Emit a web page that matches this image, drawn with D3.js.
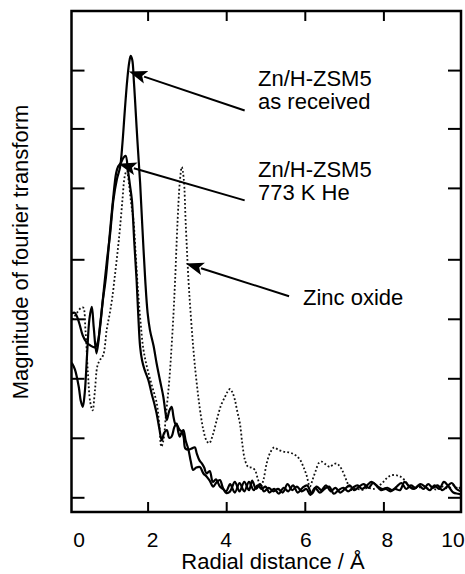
<!DOCTYPE html>
<html>
<head>
<meta charset="utf-8">
<script src="https://cdn.jsdelivr.net/npm/d3@7"></script>
<style>
    body { margin: 0; background: #fff; }
    text { font-family: "Liberation Sans", Arial, Helvetica, sans-serif; fill: #000; }
</style>
</head>
<body>
<div id="chart"></div>
<script>
// radial distance (A) and FT magnitude
const asReceivedR = [0.07, 0.15, 0.25, 0.35, 0.45, 0.55, 0.65, 0.72, 0.80, 0.88, 0.96, 1.05, 1.13, 1.22, 1.30, 1.36, 1.42, 1.48, 1.53, 1.57, 1.61, 1.65, 1.68, 1.74, 1.81, 1.87, 1.94, 2.00, 2.06, 2.15, 2.23, 2.32, 2.40, 2.46, 2.49, 2.55, 2.61, 2.66, 2.70, 2.76, 2.82, 2.88, 2.92, 2.96, 3.04, 3.12, 3.20, 3.25, 3.32, 3.38, 3.44, 3.50, 3.58, 3.66, 3.74, 3.84, 3.92, 4.00,
    4.10, 4.22, 4.34, 4.46, 4.58, 4.70, 4.80, 4.90, 5.00, 5.10, 5.22, 5.34, 5.46, 5.58, 5.70, 5.82, 5.94, 6.06, 6.18, 6.30, 6.42, 6.54, 6.66, 6.78, 6.90, 7.02, 7.14, 7.26, 7.38, 7.50, 7.62, 7.74, 7.86, 7.98, 8.10, 8.22, 8.34, 8.46, 8.58, 8.70, 8.82, 8.94, 9.06, 9.18, 9.30, 9.42, 9.54, 9.66, 9.78, 9.90, 9.97];
const asReceivedMag = [3.09, 3.10, 2.95, 2.72, 2.60, 2.55, 2.52, 2.58, 2.95, 3.45, 3.95, 4.45, 5.00, 5.35, 5.55, 5.95, 6.50, 7.00, 7.30, 7.42, 7.35, 7.00, 6.68, 6.00, 5.28, 4.50, 3.65, 3.10, 2.81, 2.55, 2.25, 1.95, 1.69, 1.40, 1.30, 1.45, 1.52, 1.35, 1.24, 1.20, 1.13, 1.10, 1.00, 0.82, 0.80, 0.82, 0.84, 0.74, 0.62, 0.57, 0.50, 0.40, 0.44, 0.26, 0.30, 0.18, 0.14, 0.10,
    0.22, 0.08, 0.24, 0.10, 0.26, 0.12, 0.20, 0.14, 0.18, 0.08, 0.14, 0.06, 0.16, 0.10, 0.20, 0.08, 0.16, 0.20, 0.06, 0.18, 0.12, 0.20, 0.10, 0.16, 0.08, 0.14, 0.20, 0.12, 0.18, 0.22, 0.16, 0.24, 0.18, 0.14, 0.16, 0.12, 0.18, 0.24, 0.14, 0.20, 0.16, 0.22, 0.18, 0.12, 0.20, 0.14, 0.26, 0.18, 0.08, 0.06, 0.05];

const heatedR = [0.07, 0.15, 0.25, 0.30, 0.35, 0.40, 0.46, 0.52, 0.58, 0.63, 0.70, 0.78, 0.86, 0.94, 1.04, 1.12, 1.20, 1.25, 1.32, 1.38, 1.44, 1.50, 1.55, 1.60, 1.66, 1.72, 1.76, 1.81, 1.86, 1.92, 2.02, 2.10, 2.18, 2.23, 2.30, 2.36, 2.42, 2.49, 2.55, 2.61, 2.68, 2.74, 2.78, 2.82, 2.87, 2.91, 2.97, 3.04, 3.10, 3.16, 3.24, 3.33, 3.42, 3.50, 3.58, 3.67, 3.75, 3.84, 3.92, 4.01,
    4.10, 4.22, 4.34, 4.46, 4.58, 4.66, 4.76, 4.86, 4.96, 5.08, 5.20, 5.32, 5.44, 5.56, 5.68, 5.80, 5.92, 6.04, 6.14, 6.26, 6.38, 6.50, 6.62, 6.74, 6.86, 6.98, 7.10, 7.22, 7.34, 7.46, 7.58, 7.70, 7.82, 7.94, 8.06, 8.18, 8.30, 8.42, 8.54, 8.66, 8.78, 8.90, 9.02, 9.14, 9.26, 9.38, 9.50, 9.62, 9.74, 9.86, 9.97];
const heatedMag = [2.26, 2.15, 1.85, 1.62, 1.52, 1.75, 2.40, 3.00, 3.20, 2.85, 2.42, 2.80, 3.30, 3.70, 4.44, 5.00, 5.45, 5.56, 5.62, 5.70, 5.74, 5.50, 5.25, 5.00, 4.30, 3.65, 3.10, 2.53, 2.30, 2.15, 1.97, 1.75, 1.55, 1.41, 1.15, 0.96, 1.08, 1.13, 1.00, 1.02, 1.18, 1.24, 1.10, 1.02, 1.10, 1.13, 0.95, 0.80, 0.60, 0.46, 0.50, 0.51, 0.40, 0.35, 0.28, 0.18, 0.25, 0.29, 0.15, 0.07,
    0.10, 0.26, 0.10, 0.26, 0.12, 0.28, 0.14, 0.22, 0.10, 0.16, 0.10, 0.14, 0.08, 0.22, 0.12, 0.18, 0.10, 0.14, 0.04, 0.16, 0.08, 0.14, 0.18, 0.06, 0.12, 0.16, 0.10, 0.16, 0.20, 0.14, 0.20, 0.26, 0.20, 0.12, 0.14, 0.10, 0.14, 0.12, 0.26, 0.18, 0.14, 0.20, 0.14, 0.22, 0.16, 0.20, 0.12, 0.18, 0.24, 0.14, 0.10];

const zincOxideR = [0.00, 0.10, 0.20, 0.30, 0.36, 0.42, 0.48, 0.54, 0.60, 0.66, 0.72, 0.78, 0.87, 0.96, 1.04, 1.10, 1.17, 1.24, 1.30, 1.36, 1.42, 1.47, 1.52, 1.58, 1.64, 1.70, 1.76, 1.82, 1.89, 1.98, 2.10, 2.23, 2.30, 2.35, 2.40, 2.47, 2.55, 2.61, 2.66, 2.70, 2.76, 2.82, 2.87, 2.92, 2.97, 3.04, 3.10, 3.16, 3.22, 3.29, 3.36, 3.42, 3.50, 3.57, 3.66, 3.76, 3.87, 3.97, 4.04, 4.10, 4.16, 4.22, 4.28, 4.35, 4.41, 4.48, 4.56, 4.64, 4.73, 4.80, 4.88, 4.95, 5.03, 5.12, 5.22, 5.32, 5.45, 5.56, 5.67, 5.78, 5.88, 5.96, 6.04, 6.13, 6.20, 6.28, 6.36, 6.43, 6.54, 6.64, 6.72, 6.81, 6.88, 6.94, 7.02, 7.10, 7.19, 7.30, 7.45, 7.60, 7.75, 7.90, 8.00, 8.10, 8.20, 8.34, 8.45, 8.55, 8.63, 8.75, 8.90, 9.05, 9.20, 9.35, 9.50, 9.65, 9.80, 9.90, 9.97];
const zincOxideMag = [2.95, 3.00, 3.10, 3.18, 3.19, 2.80, 2.10, 1.60, 1.46, 1.80, 2.20, 2.30, 2.39, 2.82, 3.10, 3.35, 3.74, 4.15, 4.54, 5.00, 5.40, 5.49, 5.30, 4.95, 4.66, 4.05, 3.43, 2.95, 2.50, 2.20, 1.90, 1.59, 1.20, 0.85, 0.95, 1.40, 1.95, 2.53, 3.10, 3.65, 4.60, 5.30, 5.55, 5.35, 4.60, 3.65, 3.05, 2.53, 2.10, 1.69, 1.35, 1.13, 0.95, 0.91, 1.05, 1.30, 1.55, 1.69, 1.78, 1.82, 1.76, 1.64, 1.45, 1.24, 0.90, 0.62, 0.51, 0.50, 0.46, 0.32, 0.18, 0.30, 0.57, 0.75, 0.84, 0.80, 0.77, 0.76, 0.74, 0.70, 0.63, 0.52, 0.38, 0.18, 0.30, 0.45, 0.58, 0.60, 0.55, 0.51, 0.55, 0.57, 0.53, 0.47, 0.35, 0.22, 0.12, 0.15, 0.12, 0.16, 0.14, 0.20, 0.26, 0.33, 0.37, 0.37, 0.34, 0.28, 0.21, 0.15, 0.17, 0.14, 0.16, 0.13, 0.18, 0.15, 0.20, 0.14, 0.18];

const xTicks = [0, 2, 4, 6, 8, 10];
const yTicks = [0, 1, 2, 3, 4, 5.2, 6.2, 7.18];

const annotations = [
    { lines: ["Zn/H-ZSM5", "as received"], x: 258, y: 86, tip: [1.91, 7.07], tail: [4.47, 6.5] },
    { lines: ["Zn/H-ZSM5", "773 K He"], x: 258, y: 177, tip: [1.65, 5.53], tail: [4.47, 4.99] },
    { lines: ["Zinc oxide"], x: 303, y: 305, tip: [3.36, 3.85], tail: [5.60, 3.38] }
];

const width = 465, height = 574;
const frame = { left: 71.5, right: 461, top: 11, bottom: 512 };

const svg = d3.select("#chart")
    .append("svg")
    .attr("width", width)
    .attr("height", height);

const xScale = d3.scaleLinear().domain([0, 10]).range([69, 462]);
const yScale = d3.scaleLinear().domain([0, 8]).range([497.3, 21.3]);

svg.append("clipPath")
    .attr("id", "plot-clip")
    .append("rect")
    .attr("x", frame.left)
    .attr("y", frame.top)
    .attr("width", frame.right - frame.left)
    .attr("height", frame.bottom - frame.top);

const line = d3.line()
    .x(d => xScale(d[0]))
    .y(d => yScale(d[1]))
    .curve(d3.curveCatmullRom.alpha(0.5));

const zip = (xs, ys) => xs.map((x, i) => [x, ys[i]]);

const curves = svg.append("g").attr("clip-path", "url(#plot-clip)");

curves.append("path")
    .datum(zip(zincOxideR, zincOxideMag))
    .attr("d", line)
    .attr("fill", "none")
    .attr("stroke", "#111")
    .attr("stroke-width", 1.8)
    .attr("stroke-dasharray", "1.8,2.2");

[[heatedR, heatedMag], [asReceivedR, asReceivedMag]].forEach(([xs, ys]) => {
    curves.append("path")
        .datum(zip(xs, ys))
        .attr("d", line)
        .attr("fill", "none")
        .attr("stroke", "#000")
        .attr("stroke-width", 2.2)
        .attr("stroke-linejoin", "round");
});

// inward ticks on all four sides
const tickStyle = g => {
    g.select(".domain").remove();
    g.selectAll(".tick line").attr("stroke", "#000").attr("stroke-width", 2);
    g.selectAll(".tick text").remove();
};
svg.append("g")
    .attr("transform", "translate(0," + frame.bottom + ")")
    .call(d3.axisBottom(xScale).tickValues([2, 4, 6, 8]).tickSize(-10))
    .call(tickStyle);
svg.append("g")
    .attr("transform", "translate(0," + frame.top + ")")
    .call(d3.axisTop(xScale).tickValues([2, 4, 6, 8]).tickSize(-10))
    .call(tickStyle);
svg.append("g")
    .attr("transform", "translate(" + frame.left + ",0)")
    .call(d3.axisLeft(yScale).tickValues(yTicks).tickSize(-13))
    .call(tickStyle);
svg.append("g")
    .attr("transform", "translate(" + frame.right + ",0)")
    .call(d3.axisRight(yScale).tickValues(yTicks).tickSize(-13))
    .call(tickStyle);

svg.append("rect")
    .attr("x", frame.left)
    .attr("y", frame.top)
    .attr("width", frame.right - frame.left)
    .attr("height", frame.bottom - frame.top)
    .attr("fill", "none")
    .attr("stroke", "#000")
    .attr("stroke-width", 2.5);

// x tick labels, end ones pulled inside the frame
const labelNudge = { 0: 10, 2: 5, 4: 0, 6: 1, 8: 4, 10: -9 };
svg.append("g")
    .selectAll("text")
    .data(xTicks)
    .enter()
    .append("text")
    .attr("x", d => xScale(d) + labelNudge[d])
    .attr("y", 547)
    .attr("text-anchor", "middle")
    .style("font-size", "21px")
    .text(d => d);

svg.append("text")
    .attr("x", 273)
    .attr("y", 569)
    .attr("text-anchor", "middle")
    .style("font-size", "22px")
    .text("Radial distance / Å");

svg.append("text")
    .attr("text-anchor", "middle")
    .attr("transform", "translate(28,252) rotate(-90)")
    .style("font-size", "22px")
    .text("Magnitude of fourier transform");

// annotations with arrows
svg.append("defs")
    .append("marker")
    .attr("id", "head")
    .attr("viewBox", "0 -7 18 14")
    .attr("refX", 2)
    .attr("refY", 0)
    .attr("markerUnits", "userSpaceOnUse")
    .attr("markerWidth", 18)
    .attr("markerHeight", 14)
    .attr("orient", "auto-start-reverse")
    .append("path")
    .attr("d", "M18,0 L0,-6.5 L4,0 L0,6.5 Z")
    .attr("fill", "#000");

annotations.forEach(a => {
    svg.append("line")
        .attr("x1", xScale(a.tail[0]))
        .attr("y1", yScale(a.tail[1]))
        .attr("x2", xScale(a.tip[0]))
        .attr("y2", yScale(a.tip[1]))
        .attr("stroke", "#000")
        .attr("stroke-width", 2)
        .attr("marker-end", "url(#head)");
    a.lines.forEach((t, i) => {
        svg.append("text")
            .attr("x", a.x)
            .attr("y", a.y + i * 23)
            .style("font-size", "22px")
            .text(t);
    });
});
</script>
</body>
</html>
